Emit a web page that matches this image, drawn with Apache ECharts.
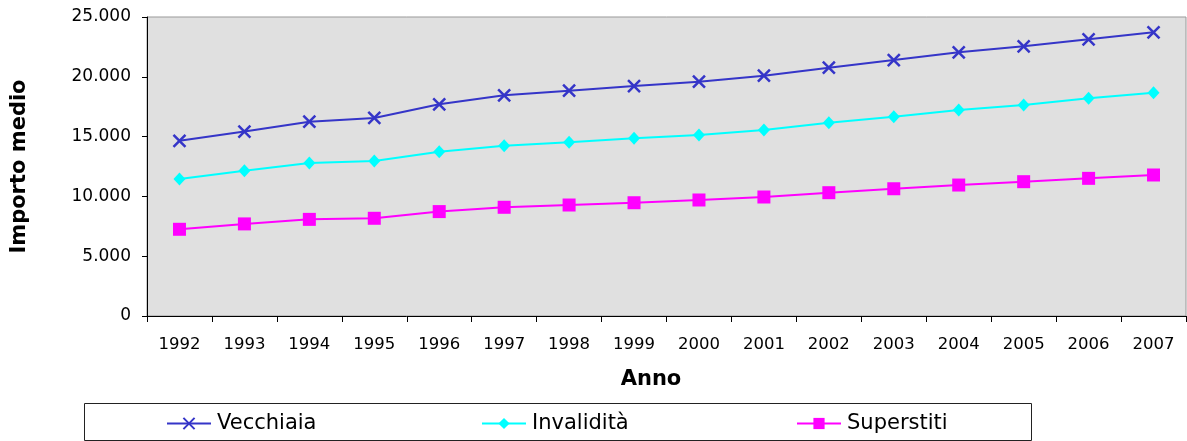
<!DOCTYPE html>
<html>
<head>
<meta charset="utf-8">
<script src="https://cdn.jsdelivr.net/npm/echarts@6/dist/echarts.min.js"></script>
<style>
html,body{margin:0;padding:0;background:#fff;}
#chart{width:1187px;height:441px;}
</style>
</head>
<body>
<div id="chart"></div>
<script>
const years = ['1992','1993','1994','1995','1996','1997','1998','1999','2000','2001','2002','2003','2004','2005','2006','2007'];
const vecchiaia = [14650, 15420, 16250, 16560, 17700, 18450, 18840, 19230, 19590, 20090, 20760, 21400, 22050, 22550, 23130, 23720];
const invalidita = [11450, 12140, 12790, 12960, 13740, 14240, 14520, 14860, 15130, 15550, 16160, 16660, 17220, 17640, 18200, 18670];
const superstiti = [7250, 7700, 8080, 8170, 8730, 9090, 9280, 9470, 9700, 9950, 10310, 10640, 10950, 11230, 11510, 11790];
const seriesNames = ['Vecchiaia', 'Invalidità', 'Superstiti'];
const yTicks = [0, 5000, 10000, 15000, 20000, 25000];

const FONT = 'DejaVu Sans';
const fmt = v => String(v).replace(/\B(?=(\d{3})+(?!\d))/g, '.');

const chart = echarts.init(document.getElementById('chart'), null, {renderer: 'canvas'});

function legendAt(left, name) {
  return {
    data: [name], left: left, top: 413, padding: 0, orient: 'horizontal',
    itemWidth: 44, itemHeight: 14, itemGap: 6, selectedMode: false,
    textStyle: {fontFamily: FONT, fontSize: 21, color: '#000', padding: [0, 0, 0, 1]}
  };
}

chart.setOption({
  animation: false,
  backgroundColor: '#fff',
  grid: {
    left: 147, top: 17, right: 1, bottom: 125,
    show: true, backgroundColor: '#E0E0E0', borderColor: '#999', borderWidth: 1
  },
  legend: [legendAt(166, seriesNames[0]), legendAt(481, seriesNames[1]), legendAt(796, seriesNames[2])],
  graphic: [{
    type: 'rect', left: 84, top: 403, z: -1, silent: true,
    shape: {x: 0, y: 0, width: 947, height: 37},
    style: {fill: '#fff', stroke: '#222', lineWidth: 1}
  }],
  xAxis: {
    type: 'category', data: years, boundaryGap: true,
    axisLine: {show: true, lineStyle: {color: '#000', width: 1}},
    axisTick: {show: true, length: 6, lineStyle: {color: '#000'}},
    axisLabel: {fontFamily: FONT, fontSize: 16.5, color: '#000', margin: 20, interval: 0},
    splitLine: {show: false},
    name: 'Anno', nameLocation: 'middle', nameGap: 53,
    nameTextStyle: {fontFamily: FONT, fontSize: 21, fontWeight: 'bold', color: '#000', padding: [0, 31, 0, 0]}
  },
  yAxis: {
    type: 'value', min: 0, max: 25000, interval: 5000,
    axisLine: {show: true, lineStyle: {color: '#000', width: 1}},
    axisTick: {show: true, length: 5, lineStyle: {color: '#000'}},
    axisLabel: {fontFamily: FONT, fontSize: 17, color: '#000', margin: 16, formatter: fmt, padding: [4, 0, 0, 0]},
    splitLine: {show: false},
    name: 'Importo medio', nameLocation: 'middle', nameGap: 117, nameRotate: 90,
    nameTextStyle: {fontFamily: FONT, fontSize: 21, fontWeight: 'bold', color: '#000'}
  },
  series: [
    {
      name: seriesNames[0], type: 'line', data: vecchiaia,
      symbol: 'path://M0,0L10,10M10,0L0,10', symbolSize: 12, symbolKeepAspect: true,
      lineStyle: {color: '#3535C8', width: 2},
      itemStyle: {color: '#3535C8', borderColor: '#3535C8', borderWidth: 2.5}
    },
    {
      name: seriesNames[1], type: 'line', data: invalidita,
      symbol: 'diamond', symbolSize: [12, 13],
      lineStyle: {color: '#00FFFF', width: 2},
      itemStyle: {color: '#00FFFF'}
    },
    {
      name: seriesNames[2], type: 'line', data: superstiti,
      symbol: 'rect', symbolSize: 13,
      lineStyle: {color: '#FF00FF', width: 2},
      itemStyle: {color: '#FF00FF'}
    }
  ]
});
</script>
</body>
</html>
